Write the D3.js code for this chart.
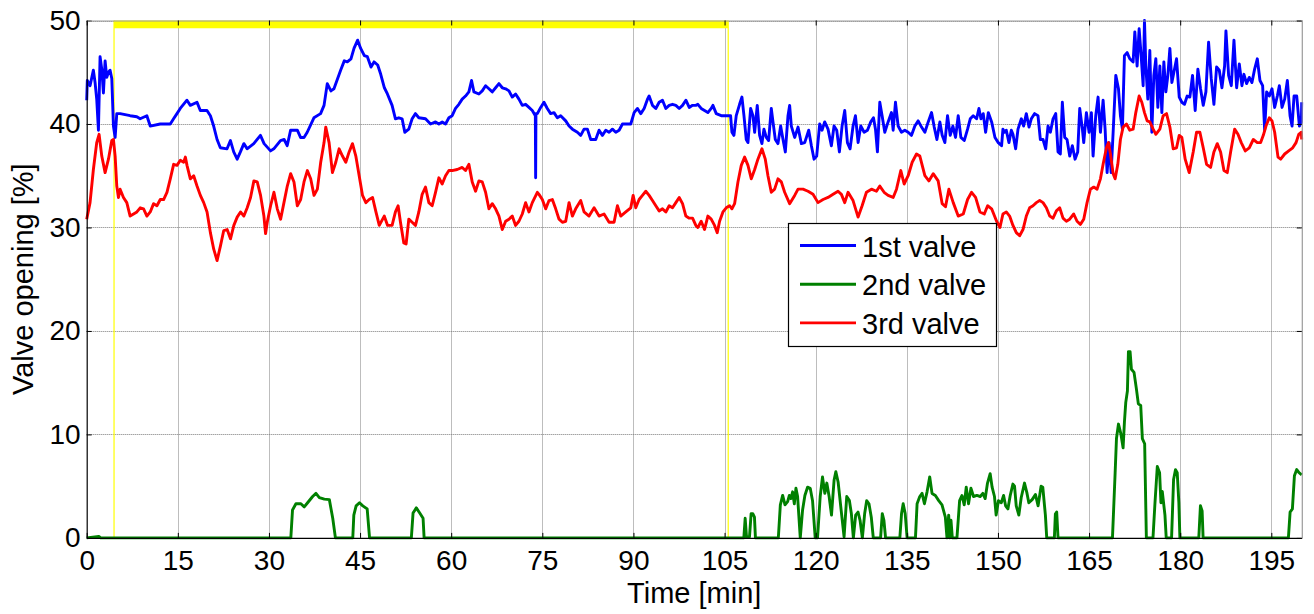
<!DOCTYPE html>
<html><head><meta charset="utf-8">
<script src="https://cdn.jsdelivr.net/npm/d3@7"></script>
<style>
body{margin:0;background:#fff}
text{font-family:"Liberation Sans",Arial,sans-serif;fill:#000}
</style>
</head><body>
<svg id="chart" width="1314" height="614"></svg>
<script>
const xTicks=[0,15,30,45,60,75,90,105,120,135,150,165,180,195];
const yTicks=[0,10,20,30,40,50];
const seriesNames=["1st valve","2nd valve","3rd valve"];
const seriesColors=["#0000ff","#008000","#ff0000"];
const xLabel="Time [min]";
const yLabel="Valve opening [%]";
const markerStart=4.5, markerEnd=105.6;

const valve1=[[0,42.3],[0.1,44.2],[0.55,43.7],[1.1,45.2],[1.38,44.0],[1.65,42.4],[1.93,39.4],[2.2,46.5],[2.48,45.3],[2.75,43.0],[3.03,46.1],[3.3,44.5],[3.58,45.0],[3.85,45.2],[4.13,44.4],[4.4,39.8],[4.68,38.7],[4.95,41.0],[5.5,41.0],[7.15,40.8],[8.25,40.7],[8.8,40.5],[9.9,40.8],[10.46,39.8],[12.1,40.0],[13.76,40.0],[14.3,40.5],[14.86,41.0],[15.4,41.5],[16.5,42.3],[17.06,41.8],[18.16,42.1],[18.7,41.3],[19.8,41.3],[20.36,40.8],[20.9,39.8],[21.46,38.5],[22.0,37.7],[23.1,37.6],[23.66,38.4],[24.2,37.3],[24.77,36.6],[25.3,37.3],[25.87,38.1],[26.4,37.6],[27.5,38.1],[28.6,38.9],[29.2,38.1],[30.27,37.4],[30.8,37.6],[31.9,38.4],[32.5,38.5],[33.0,37.9],[33.57,39.4],[34.67,39.4],[35.2,38.7],[35.77,38.7],[36.3,39.2],[37.4,40.6],[38.5,41.0],[39.07,41.8],[39.6,43.9],[40.2,43.2],[40.7,43.4],[41.8,45.2],[42.4,46.1],[42.9,46.0],[43.5,46.3],[44.0,47.3],[44.6,48.1],[45.1,47.3],[45.7,46.6],[46.2,46.5],[46.8,45.5],[47.3,46.0],[47.9,45.7],[48.4,44.8],[49.0,43.5],[49.5,42.9],
[50.27,41.8],[50.82,40.5],[51.37,40.6],[51.92,40.5],[52.36,39.2],[53.02,39.5],[53.57,40.5],[54.12,41.0],[54.67,40.6],[55.77,40.5],[56.6,40.0],[57.42,40.2],[57.97,40.0],[58.52,40.2],[59.07,40.0],[59.62,40.6],[60.16,40.8],[60.71,41.5],[61.26,41.9],[61.81,42.4],[62.36,42.7],[62.91,43.1],[63.35,44.2],[63.74,43.1],[64.56,42.9],[65.11,43.2],[65.66,43.7],[66.21,43.4],[66.76,43.1],[67.31,43.5],[67.86,43.9],[68.41,43.5],[68.96,43.4],[69.51,43.2],[70.05,42.6],[70.6,42.9],[71.15,42.4],[71.7,41.8],[72.25,41.9],[72.8,41.6],[73.35,41.3],[73.85,40.8],[73.9,34.8],[73.95,41.0],[74.18,41.0],[74.73,41.6],[75.27,42.1],[75.82,41.5],[76.37,41.0],[76.92,41.1],[77.47,40.6],[78.02,40.8],[78.85,40.3],[79.4,39.8],[79.95,39.5],[80.77,39.2],[81.32,38.9],[81.87,39.5],[82.42,39.5],[82.97,38.5],[83.79,38.5],[84.34,39.4],[84.89,38.9],[85.44,39.4],[85.99,39.2],[86.54,39.5],[87.09,39.2],[87.64,39.4],[88.19,40.0],[88.74,40.0],[89.56,40.0],[90.11,41.1],[90.66,41.5],[91.21,41.0],[91.76,41.5],[92.31,42.4],[92.58,42.7],[93.13,41.8],[93.68,41.5],[94.23,42.1],[94.78,42.3],[95.33,41.5],[95.88,41.8],[96.43,41.9],[96.98,41.8],[97.53,41.5],[98.08,41.8],[98.63,42.3],[99.18,41.6],[99.73,41.8],[100.27,41.8],
[100.6,41.9],[101.15,41.5],[101.7,41.3],[102.25,41.1],[102.8,41.5],[103.08,41.8],[103.63,41.0],[104.45,40.8],[105.55,40.8],[105.99,40.8],[106.21,39.2],[106.54,38.9],[106.92,40.8],[107.47,41.9],[107.86,42.6],[108.19,40.8],[108.57,38.5],[108.85,38.2],[109.29,41.5],[109.67,40.8],[109.95,39.2],[110.38,41.8],[110.77,38.9],[111.15,38.1],[111.48,39.5],[111.87,38.7],[112.25,38.4],[112.69,41.5],[112.97,40.2],[113.35,38.5],[113.79,38.1],[114.23,39.8],[114.62,38.5],[115.0,37.3],[115.44,40.8],[115.71,41.8],[115.99,39.8],[116.54,38.7],[117.09,39.7],[117.64,38.1],[118.19,38.2],[118.85,39.4],[119.29,37.9],[119.73,36.6],[120.16,36.9],[120.66,40.0],[121.04,39.4],[121.48,40.2],[122.03,39.5],[122.58,37.9],[123.02,39.8],[123.46,39.4],[123.9,37.3],[124.34,39.8],[124.78,41.3],[125.22,38.2],[125.66,37.6],[126.15,39.8],[126.54,40.8],[126.98,38.2],[127.42,39.8],[127.97,39.2],[128.52,39.4],[129.07,40.2],[129.51,40.6],[129.84,39.5],[130.16,37.3],[130.55,42.1],[130.93,40.8],[131.37,39.2],[131.92,40.2],[132.47,41.1],[132.75,39.4],[133.13,42.1],[133.57,39.8],[134.12,39.2],[134.67,39.4],[135.22,39.2],[135.77,38.9],[136.32,39.8],[136.87,40.3],[137.42,39.7],[137.97,39.2],[138.52,40.2],[139.07,41.1],[139.51,39.7],[139.95,38.5],[140.44,40.2],[140.82,38.9],[141.26,38.2],[141.7,40.8],[142.14,38.9],[142.58,39.8],[143.02,38.7],[143.46,40.8],[143.9,38.7],[144.45,38.4],[145.0,39.5],[145.44,40.5],[145.93,40.8],[146.48,40.5],[146.87,41.5],[147.2,40.5],[147.58,41.0],[147.97,39.2],[148.41,41.1],[148.96,40.2],[149.51,38.7],[150.05,38.2],[150.6,37.9],
[150.82,39.5],[151.1,39.2],[151.37,39.4],[151.81,38.2],[152.2,39.4],[152.47,39.0],[152.91,37.6],[153.3,39.5],[153.85,40.5],[154.23,39.8],[154.67,41.0],[155.11,39.7],[155.49,40.5],[156.04,41.0],[156.59,40.8],[156.98,38.5],[157.42,38.5],[157.86,37.6],[158.24,39.8],[158.63,39.2],[159.07,40.5],[159.51,41.0],[159.89,37.3],[160.27,37.1],[160.6,42.1],[160.99,38.7],[161.37,38.5],[161.81,36.9],[162.25,37.9],[162.69,36.6],[163.13,37.3],[163.46,41.5],[163.9,39.5],[164.12,38.2],[164.56,41.1],[165.0,39.2],[165.38,41.1],[165.66,36.9],[166.1,40.8],[166.48,42.6],[166.87,39.2],[167.31,42.3],[167.64,39.5],[167.97,35.3],[168.3,38.2],[168.63,35.3],[168.96,39.2],[169.4,44.7],[169.84,43.4],[170.16,40.8],[170.49,39.5],[170.82,46.6],[171.26,46.9],[171.7,46.3],[172.25,46.0],[172.53,48.9],[172.91,45.6],[173.24,49.2],[173.57,46.6],[173.9,43.7],[174.12,50],[174.34,45.6],[174.67,42.4],[175.0,47.1],[175.33,39.2],[175.66,44.7],[175.99,46.3],[176.32,41.6],[176.65,45.6],[176.98,41.1],[177.31,46.0],[177.64,43.1],[177.97,44.7],[178.3,47.3],[178.63,44.0],[178.96,45.0],[179.4,46.3],[179.84,42.6],[180.27,42.1],[180.71,41.9],[181.15,42.7],[181.59,42.6],[182.03,44.7],[182.47,41.3],[182.91,45.3],[183.35,43.4],[183.79,41.8],[184.23,43.1],[184.67,47.9],[185.11,44.4],[185.55,41.9],[185.99,45.5],[186.43,45.2],[186.87,43.5],[187.31,45.6],[187.53,49.0],[187.97,44.7],[188.41,43.7],[188.85,48.1],[189.29,43.5],[189.73,45.8],[190.16,43.7],[190.49,44.8],[190.93,43.9],[191.37,44.5],[191.81,44.0],[192.25,45.3],[192.69,46.3],[193.13,44.2],[193.57,43.7],[193.9,39.4],[194.23,43.1],[194.67,42.7],[195.11,43.4],[195.55,41.6],[195.99,42.7],[196.32,43.7],[196.76,41.6],[197.2,42.4],[197.64,44.2],[198.08,40.8],[198.41,39.8],[198.74,42.7],[199.18,42.7],[199.62,39.8],[199.95,40.2],[200,42.1]];

const valve2=[[0,0],[2,0.15],[2.3,0],[33.6,0],[33.88,2.7],[34.44,3.3],[35.26,3.3],[35.81,3.0],[36.36,3.4],[37.19,4.0],[37.74,4.3],[38.29,3.9],[39.12,3.75],[39.94,3.7],[40.5,1.9],[40.94,0],[43.8,0],[43.97,2.2],[44.35,3.1],[44.9,3.4],[45.45,3.1],[46.17,2.8],[46.56,0],[53.44,0],[53.72,2.4],[54.26,2.9],[54.82,2.4],[55.37,1.9],[55.54,0],[108.17,0],[108.39,1.9],[108.61,0.1],[109.1,0.1],[109.37,2.35],[109.64,2.35],[109.92,2.0],[110.08,0],[113.85,0],[114.18,3.2],[114.56,4.1],[114.95,3.2],[115.38,3.5],[115.66,4.1],[115.93,3.8],[116.2,4.45],[116.48,3.3],[116.75,4.8],[117.02,4.0],[117.46,0],[117.84,2.7],[118.22,4.1],[118.66,4.9],[119.1,4.8],[119.48,3.6],[119.92,0],[120.3,0],[120.74,4.0],[121.12,5.9],[121.5,4.3],[121.83,5.3],[122.21,4.0],[122.6,2.2],[123.03,5.6],[123.31,6.4],[123.69,5.4],[124.13,3.0],[124.67,0.1],[125.11,4.0],[125.55,3.6],[125.87,2.35],[126.2,0],[126.58,2.2],[126.97,2.5],[127.3,1.7],[127.68,0],[128.06,2.35],[128.39,3.6],[128.77,3.3],[129.15,2.0],[129.48,0],[130.68,0],[130.96,2.35],[131.23,1.7],[131.5,0],[133.85,0],[134.13,2.35],[134.4,3.3],[134.73,2.35],[135.05,0],[136.42,0],[136.69,3.3],[137.13,4.0],[137.51,4.3],[137.9,3.3],[138.33,4.45],[138.77,5.9],[139.15,4.3],[139.7,4.1],[140.25,3.6],[140.79,3.2],[141.34,2.0],[141.61,0],[141.89,2.2],[142.05,0],[142.27,1.7],[142.49,0],[143.25,0],[143.69,3.6],[144.07,4.1],[144.45,3.2],[144.78,4.9],[145.16,3.3],[145.55,4.8],[145.98,4.0],[146.53,4.1],[147.08,4.0],[147.51,4.3],[147.9,3.8],[148.28,5.3],[148.72,6.2],[149.04,4.9],[149.43,4.0],[149.7,2.2],[150.08,3.6],[150.55,3.4],[150.93,4.1],[151.26,3.1],[151.64,2.8],[152.02,4.1],[152.46,5.2],[152.73,5.0],[153.01,3.1],[153.44,2.2],[153.83,3.9],[154.37,5.3],[154.75,4.4],[155.08,3.4],[155.63,3.7],[156.17,4.2],[156.61,3.1],[157.1,5.0],[157.38,4.9],[157.81,2.2],[158.03,0],[159.29,0],[159.45,2.3],[159.67,2.5],[159.89,0],[168.85,0],[169.29,6.3],[169.51,9.6],[169.84,11.0],[170.22,10.1],[170.6,8.7],[170.82,11.2],[171.04,13.1],[171.31,14.2],[171.48,18.0],[171.75,18.0],[171.97,16.3],[172.4,16.0],[172.79,14.4],[173.11,12.95],[173.5,12.8],[173.77,9.6],[174.15,9.1],[174.43,0],[175.52,0],[175.85,3.4],[176.23,6.9],[176.61,6.3],[176.83,3.4],[177.05,4.5],[177.49,2.2],[177.7,0],[178.58,0],[178.91,5.65],[179.23,6.6],[179.51,6.3],[179.78,3.4],[179.95,0],[183.06,0],[183.33,3.1],[183.61,2.6],[183.77,0],[197.81,0],[198.09,2.5],[198.47,2.8],[198.8,6.0],[199.18,6.6],[199.56,6.3],[200,6.1]];

const valve3=[[0,30.8],[0.55,32.4],[1.1,35.6],[1.65,38.2],[2.04,39.0],[2.48,36.9],[3.03,35.3],[3.58,36.6],[4.13,38.4],[4.4,38.5],[4.68,36.9],[4.95,34.0],[5.23,32.9],[5.5,33.7],[6.05,32.9],[6.6,32.4],[7.15,31.1],[7.71,31.3],[8.26,31.5],[8.81,31.9],[9.36,31.8],[9.91,31.1],[10.46,31.5],[11.01,32.3],[11.56,32.1],[12.11,32.7],[12.66,32.7],[13.21,33.4],[13.76,34.7],[14.31,36.1],[14.86,36.0],[15.41,36.5],[15.96,36.3],[16.24,36.8],[16.51,36.0],[17.06,34.7],[17.61,35.0],[18.16,34.0],[18.71,33.1],[19.26,32.4],[19.81,31.5],[20.36,29.5],[20.91,27.9],[21.46,26.8],[22.01,28.2],[22.56,29.7],[23.12,29.8],[23.67,28.9],[24.22,30.2],[24.77,31.0],[25.32,31.5],[25.87,31.1],[26.42,31.9],[26.97,32.9],[27.52,34.5],[28.07,34.4],[28.62,33.1],[29.17,31.1],[29.44,29.4],[29.72,30.5],[30.27,32.1],[30.82,33.4],[31.37,31.8],[31.92,30.8],[32.47,32.4],[33.02,34.0],[33.57,35.2],[34.12,34.4],[34.67,32.1],[35.22,32.7],[35.77,34.4],[36.32,35.5],[36.87,34.7],[37.42,33.1],[37.97,33.7],[38.52,36.3],[39.07,38.2],[39.35,39.7],[39.9,38.2],[40.45,35.3],[41.0,36.3],[41.55,37.6],[42.1,36.9],[42.65,36.3],[43.2,37.3],[43.75,38.1],[44.3,36.9],[44.85,35.0],[45.4,33.1],[45.95,32.4],[46.5,32.7],[47.06,32.9],[47.61,31.5],[48.16,30.2],[48.98,31.1],[49.53,30.2],
[50.27,30.2],[50.82,31.5],[51.26,32.1],[51.65,30.5],[52.2,28.5],[52.58,28.4],[53.02,30.8],[53.57,30.5],[54.12,30.2],[54.67,31.5],[55.22,33.2],[55.77,33.9],[56.32,32.4],[56.87,32.1],[57.42,33.4],[57.97,34.8],[58.52,34.2],[59.07,35.0],[59.62,35.5],[60.16,35.5],[60.99,35.6],[61.81,35.8],[62.36,35.5],[62.91,36.1],[63.46,34.4],[64.01,33.5],[64.56,34.5],[65.11,34.4],[65.66,33.4],[66.21,31.8],[66.76,32.3],[67.31,31.8],[67.86,31.1],[68.41,29.8],[68.96,30.6],[69.51,30.8],[70.05,31.1],[70.6,30.2],[71.15,30.6],[71.7,31.3],[72.25,32.4],[72.8,31.5],[73.35,32.4],[74.18,33.4],[74.45,33.2],[75.0,32.7],[75.55,31.8],[76.1,32.6],[76.65,32.7],[77.2,31.8],[77.75,30.8],[78.3,30.5],[78.85,30.6],[79.4,32.4],[79.95,31.1],[80.49,31.8],[81.32,32.6],[81.87,31.5],[82.69,31.1],[83.52,31.9],[84.34,31.1],[85.16,31.3],[85.99,30.5],[86.81,30.5],[87.36,32.1],[87.91,31.1],[88.74,31.5],[89.56,31.9],[89.95,33.1],[90.38,31.9],[90.93,32.7],[91.48,33.1],[92.03,33.5],[92.58,33.1],[93.13,32.6],[93.68,32.1],[94.23,31.6],[94.78,31.8],[95.33,31.5],[95.88,32.1],[96.43,31.9],[96.98,32.4],[97.53,32.9],[98.08,32.3],[98.63,31.1],[99.18,30.9],[99.73,30.9],[100.27,30.2],
[100.6,30.0],[101.15,30.6],[101.7,29.8],[102.25,31.1],[102.8,30.8],[103.35,30.2],[103.79,29.5],[104.18,30.6],[104.73,31.5],[105.27,31.9],[105.82,32.1],[106.21,31.8],[106.65,32.3],[107.2,34.4],[107.75,36.0],[108.3,36.8],[108.85,36.0],[109.4,34.7],[109.95,35.6],[110.49,36.6],[111.15,37.6],[111.7,36.6],[112.14,35.0],[112.69,33.4],[113.24,33.7],[113.79,34.7],[114.34,34.4],[114.89,33.4],[115.71,32.3],[116.54,33.1],[117.09,33.7],[117.91,33.7],[118.74,33.5],[119.56,33.2],[120.38,32.4],[121.21,32.7],[122.03,32.9],[122.86,33.2],[123.68,33.5],[124.23,33.2],[124.78,32.4],[125.33,33.4],[126.15,32.6],[126.98,31.0],[127.64,32.1],[128.35,33.4],[129.18,33.7],[130.0,33.5],[130.55,34.0],[131.26,33.4],[131.92,33.1],[132.75,32.9],[133.3,33.7],[134.01,35.5],[134.56,34.2],[135.22,35.0],[135.88,36.3],[136.59,37.1],[137.14,36.9],[137.97,35.0],[138.63,34.5],[139.34,35.2],[140.16,34.5],[140.82,32.3],[141.37,32.0],[141.92,33.7],[142.64,32.4],[143.46,31.1],[144.29,31.3],[145.0,32.7],[145.66,33.4],[146.32,32.9],[147.03,31.5],[147.75,31.3],[148.3,32.1],[148.96,31.8],[149.78,30.6],[150.33,30.0],
[150.82,31.3],[151.37,31.5],[151.92,31.1],[152.47,30.2],[153.02,29.5],[153.57,29.2],[154.12,29.8],[154.67,31.1],[155.22,31.9],[155.77,32.1],[156.32,32.4],[156.87,32.6],[157.42,32.4],[157.97,31.9],[158.52,31.1],[159.07,30.9],[159.62,31.6],[160.16,31.9],[160.71,30.9],[161.26,30.6],[161.81,30.8],[162.47,31.3],[163.02,30.6],[163.57,30.3],[164.12,30.8],[164.67,32.4],[165.22,33.7],[165.77,33.9],[166.32,33.7],[166.87,34.7],[167.31,36.1],[167.86,37.7],[168.19,38.2],[168.52,37.1],[168.96,35.2],[169.29,34.7],[169.73,36.1],[170.16,38.5],[170.6,39.7],[171.15,40.0],[171.7,39.4],[172.25,39.5],[172.69,41.1],[173.24,42.7],[173.68,42.1],[174.12,41.1],[174.56,40.3],[175.0,40.2],[175.55,39.5],[175.99,39.0],[176.65,39.5],[177.2,40.8],[177.75,41.0],[178.3,39.7],[178.85,37.6],[179.4,37.7],[179.84,38.9],[180.27,38.7],[180.82,36.6],[181.48,35.3],[182.14,37.3],[182.69,39.2],[183.24,39.2],[183.79,37.7],[184.34,36.1],[185.0,35.8],[185.55,37.3],[186.1,38.1],[186.65,37.3],[187.2,35.5],[187.75,35.3],[188.3,37.3],[188.96,39.5],[189.51,39.0],[190.05,38.2],[190.71,37.4],[191.37,37.7],[192.03,38.5],[192.69,38.2],[193.24,38.2],[193.68,38.9],[194.12,39.8],[194.67,40.6],[195.11,40.3],[195.55,39.2],[196.1,36.8],[196.54,36.6],[197.2,37.1],[197.86,37.4],[198.52,37.7],[199.07,38.2],[199.51,39.0],[199.95,39.2],[200,38.5]];

const series=[valve1,valve2,valve3];

const svg=d3.select("#chart");
svg.append("rect").attr("width",1314).attr("height",614).attr("fill","#fff");
const x=d3.scaleLinear().domain([0,200]).range([86.7,1301.7]);
const y=d3.scaleLinear().domain([0,50]).range([537.9,20.5]);
const [x0,x1]=x.range(), [y0,y1]=y.range();

// grid
const grid=svg.append("g").attr("stroke","#7a7a7a").attr("stroke-width",1).attr("stroke-dasharray","1,1");
grid.selectAll("line.gx").data(xTicks.filter(d=>d>0)).join("line")
  .attr("x1",d=>Math.round(x(d))+0.5).attr("x2",d=>Math.round(x(d))+0.5).attr("y1",y1).attr("y2",y0);
grid.selectAll("line.gy").data(yTicks.filter(d=>d>0)).join("line")
  .attr("x1",x0).attr("x2",x1).attr("y1",d=>Math.round(y(d))+0.5).attr("y2",d=>Math.round(y(d))+0.5);
grid.append("line").attr("x1",Math.round(x1)+0.5).attr("x2",Math.round(x1)+0.5).attr("y1",y1).attr("y2",y0);

// yellow markers
const yl=svg.append("g");
yl.append("rect").attr("x",x(markerStart)).attr("y",y(50)).attr("width",x(markerEnd)-x(markerStart)).attr("height",y(49.25)-y(50)).attr("fill","#ffff00");
[markerStart,markerEnd].forEach(t=>{
  yl.append("line").attr("x1",x(t)).attr("x2",x(t)).attr("y1",y1).attr("y2",y0).attr("stroke","#ffff00").attr("stroke-width",1.2);
});

// lines
const line=d3.line().x(d=>x(d[0])).y(d=>y(d[1]));
series.forEach((s,i)=>{
  svg.append("path").datum(s).attr("d",line).attr("fill","none")
    .attr("stroke",seriesColors[i]).attr("stroke-width",2.9).attr("stroke-linejoin","round");
});

// axes
const fs=28;
const ax=svg.append("g").attr("transform",`translate(0,${y0})`)
  .call(d3.axisBottom(x).tickValues(xTicks).tickSizeInner(-5).tickSizeOuter(0).tickPadding(12));
const ay=svg.append("g").attr("transform",`translate(${x0},0)`)
  .call(d3.axisLeft(y).tickValues(yTicks).tickSizeInner(-5).tickSizeOuter(0).tickPadding(6));
const at=svg.append("g").attr("transform",`translate(0,${y1})`)
  .call(d3.axisTop(x).tickValues(xTicks).tickSizeInner(-5).tickSizeOuter(0).tickFormat(""));
const ar=svg.append("g").attr("transform",`translate(${x1},0)`)
  .call(d3.axisRight(y).tickValues(yTicks).tickSizeInner(-5).tickSizeOuter(0).tickFormat(""));
[ax,ay].forEach(a=>{
  a.select(".domain").attr("stroke","#000").attr("stroke-width",1.2);
  a.selectAll(".tick line").attr("stroke","#000");
  a.selectAll("text").attr("font-size",fs).attr("font-family","'Liberation Sans',Arial,sans-serif").attr("fill","#000");
});
[at,ar].forEach(a=>{
  a.select(".domain").attr("stroke","#9a9a9a").attr("stroke-width",1);
  a.selectAll(".tick line").attr("stroke","#000");
});

// axis labels
svg.append("text").attr("x",(x0+x1)/2).attr("y",603).attr("text-anchor","middle").attr("font-size",29).text(xLabel);
svg.append("text").attr("transform",`translate(33,${(y0+y1)/2}) rotate(-90)`).attr("text-anchor","middle").attr("font-size",29).text(yLabel);

// legend
const lg=svg.append("g");
lg.append("rect").attr("x",788.5).attr("y",223.5).attr("width",208).attr("height",123).attr("fill","#fff").attr("stroke","#000").attr("stroke-width",1.2);
seriesNames.forEach((n,i)=>{
  const ly=245.5+i*38.7;
  lg.append("line").attr("x1",800).attr("x2",856).attr("y1",ly).attr("y2",ly).attr("stroke",seriesColors[i]).attr("stroke-width",2.9);
  lg.append("text").attr("x",862).attr("y",ly+11).attr("font-size",29).text(n);
});
</script>
</body></html>
